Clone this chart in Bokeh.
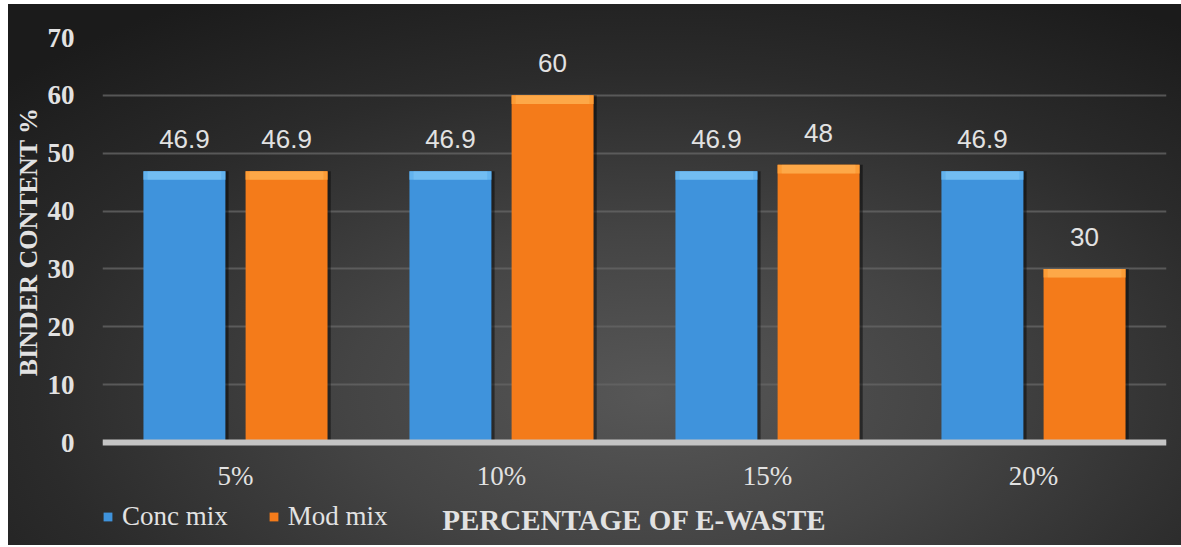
from bokeh.plotting import figure
from bokeh.models import FactorRange, Range1d, ColumnDataSource, Legend, LegendItem, Spacer, FixedTicker, Title
from bokeh.transform import dodge
from bokeh.layouts import row, column
from bokeh.core.properties import value
from bokeh.embed import file_html
from bokeh.resources import INLINE

categories = ["5%", "10%", "15%", "20%"]
conc_mix = [46.9, 46.9, 46.9, 46.9]
mod_mix = [46.9, 60, 48, 30]
y_ticks = [0, 10, 20, 30, 40, 50, 60, 70]
series_names = ["Conc mix", "Mod mix"]
x_title = "PERCENTAGE OF E-WASTE"
y_title = "BINDER CONTENT %"

BLUE = "#3f93dc"
BLUE_TOP = "#63b3ee"
ORANGE = "#f47b1a"
ORANGE_TOP = "#fc9c36"
TXT = "#e2e2e2"

# layout geometry (pixels)
FIG_W, FIG_H = 1173, 541
TOP, BOTTOM = 33, 2
PLOT_PX = 405                      # pixels from 0 to 70
EXTRA_PX = FIG_H - TOP - BOTTOM - PLOT_PX   # room below the zero line
y_max = y_ticks[-1]
y_min = -y_max * EXTRA_PX / PLOT_PX
BEVEL = 1.5                        # data units of the lighter top band

src = ColumnDataSource(dict(
    cat=categories,
    conc=conc_mix,
    mod=mod_mix,
    conc_top=[v - BEVEL for v in conc_mix],
    mod_top=[v - BEVEL for v in mod_mix],
    conc_lbl=[f"{v:g}" for v in conc_mix],
    mod_lbl=[f"{v:g}" for v in mod_mix],
))

p = figure(
    x_range=FactorRange(factors=categories, range_padding=0),
    y_range=Range1d(y_min, y_max),
    width=FIG_W, height=FIG_H,
    min_border_left=94, min_border_right=15, min_border_top=TOP, min_border_bottom=BOTTOM,
    output_backend="svg", toolbar_location=None,
)
p.styles = {"background": "radial-gradient(ellipse 75% 85% at 55% 72%, #575757 0%, #444444 35%, #2b2b2b 70%, #1b1b1b 100%)"}
p.border_fill_color = None
p.background_fill_color = None
p.outline_line_color = None

off = 0.192
w = 0.308

# shadows
for dx, col in ((-off, "conc"), (off, "mod")):
    p.vbar(x=dodge("cat", dx + 0.012, range=p.x_range), top=col, width=w, source=src,
           fill_color="black", fill_alpha=0.45, line_color=None)

r_conc = p.vbar(x=dodge("cat", -off, range=p.x_range), top="conc", width=w, source=src,
                fill_color=BLUE, line_color=None)
r_mod = p.vbar(x=dodge("cat", off, range=p.x_range), top="mod", width=w, source=src,
               fill_color=ORANGE, line_color=None)

# bevel highlight
p.vbar(x=dodge("cat", -off, range=p.x_range), top="conc", bottom="conc_top", width=w, source=src,
       fill_color=BLUE_TOP, line_color=None)
p.vbar(x=dodge("cat", off, range=p.x_range), top="mod", bottom="mod_top", width=w, source=src,
       fill_color=ORANGE_TOP, line_color=None)
p.vbar(x=dodge("cat", -off, range=p.x_range), top="conc", bottom="conc_top", width=w * 0.9, source=src,
       fill_color="#8fd2f8", fill_alpha=0.35, line_color=None)
p.vbar(x=dodge("cat", off, range=p.x_range), top="mod", bottom="mod_top", width=w * 0.9, source=src,
       fill_color="#ffc06a", fill_alpha=0.35, line_color=None)

# data labels
for dx, col, lbl in ((-off, "conc", "conc_lbl"), (off, "mod", "mod_lbl")):
    p.text(x=dodge("cat", dx, range=p.x_range), y=col, text=lbl, source=src,
           text_align="center", text_baseline="bottom", y_offset=-23,
           text_font=value("Liberation Sans"), text_font_size="26px", text_color=TXT)

# axes
xa = p.xaxis[0]
xa.fixed_location = 0
xa.axis_line_color = "#c4c4c4"
xa.axis_line_width = 6
xa.major_tick_line_color = None
xa.minor_tick_line_color = None
xa.major_label_text_font = "Liberation Serif"
xa.major_label_text_font_size = "27px"
xa.major_label_text_color = TXT
xa.major_label_standoff = 12
xa.axis_label = x_title
xa.axis_label_text_font = "Liberation Serif"
xa.axis_label_text_font_style = "bold"
xa.axis_label_text_font_size = "29px"
xa.axis_label_text_color = TXT
xa.axis_label_standoff = 10

ya = p.yaxis[0]
ya.ticker = FixedTicker(ticks=y_ticks)
ya.axis_line_color = None
ya.major_tick_line_color = None
ya.minor_tick_line_color = None
ya.major_label_text_font = "Liberation Serif"
ya.major_label_text_font_style = "bold"
ya.major_label_text_font_size = "27px"
ya.major_label_text_color = TXT
ya.major_label_standoff = 22

# y title centred on the 0..70 span (the frame extends below zero)
p.add_layout(Title(text=y_title, align="right", offset=70,
                   text_font="Liberation Serif", text_font_style="bold",
                   text_font_size="26px", text_color=TXT, standoff=4), "left")

p.xgrid.grid_line_color = None
p.ygrid.grid_line_color = "#646464"
p.ygrid.grid_line_width = 2
p.ygrid.grid_line_alpha = 0.8

legend = Legend(
    items=[LegendItem(label=series_names[0], renderers=[r_conc]),
           LegendItem(label=series_names[1], renderers=[r_mod])],
    location=(0, 11), orientation="horizontal",
    background_fill_alpha=0, border_line_color=None,
    glyph_width=11, glyph_height=11, label_standoff=9, spacing=40,
    padding=0, margin=0,
    label_text_font="Liberation Serif", label_text_font_size="27px", label_text_color=TXT,
)
p.add_layout(legend)

layout = column(Spacer(height=4), row(Spacer(width=8), p))
open("out.html", "w").write(file_html(layout, INLINE))
